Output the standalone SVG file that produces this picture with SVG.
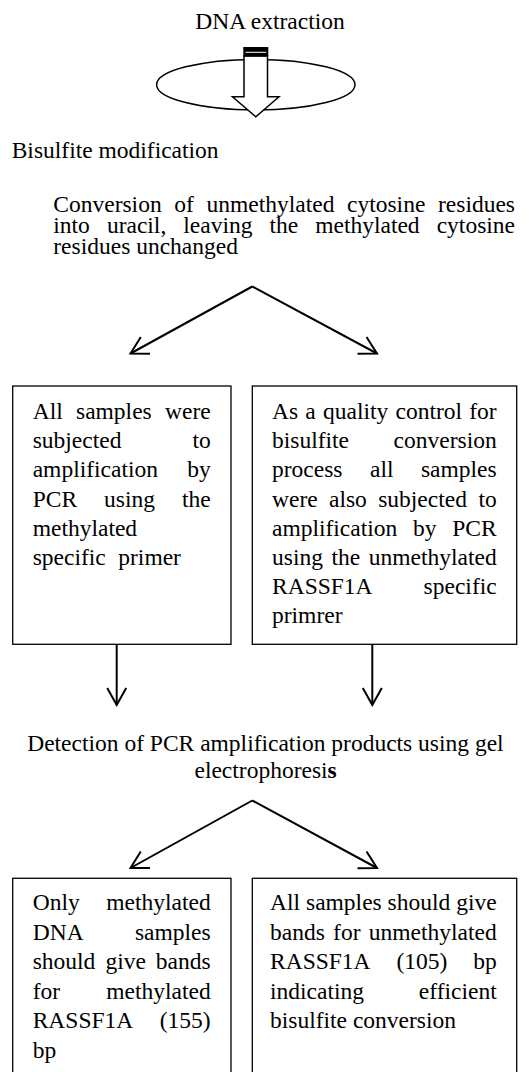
<svg xmlns="http://www.w3.org/2000/svg" width="529" height="1072" viewBox="0 0 529 1072">
<style>
.t{font-family:"Liberation Serif","Times New Roman",serif;font-size:23.5px;fill:#000}
.e{text-anchor:end}
.m{text-anchor:middle}
.box{fill:#fff;stroke:#000;stroke-width:1.3}
.conn{fill:none;stroke:#000;stroke-width:2;marker-end:url(#arr)}
</style>
<defs>
<marker id="arr" markerUnits="userSpaceOnUse" markerWidth="30" markerHeight="30" refX="0" refY="0" viewBox="-20 -15 25 30" orient="auto" overflow="visible">
<path d="M-17,-9.5 L0,0 L-17,9.5" fill="none" stroke="#000" stroke-width="2"/>
</marker>
</defs>
<rect width="529" height="1072" fill="#fff"/>

<g id="connectors">
<path class="conn" d="M252.3,286.5 L130.5,353.5"/>
<path class="conn" d="M252.3,286.5 L377,353.5"/>
<path class="conn" d="M116.7,644.3 L116.7,705"/>
<path class="conn" d="M372.3,644.3 L372.3,705"/>
<path class="conn" d="M252.3,800.5 L130.5,868"/>
<path class="conn" d="M252.3,800.5 L377,868"/>
</g>

<g id="dna-extraction">
<text class="t m" x="270" y="29">DNA extraction</text>
</g>

<g id="extraction-step">
<ellipse cx="255.8" cy="84.7" rx="99.2" ry="25.3" fill="none" stroke="#000" stroke-width="1.5"/>
<path d="M244,56 L244,96.7 L232.5,96.7 L255.8,116.7 L279,96.7 L267.5,96.7 L267.5,56 Z" fill="#fff" stroke="#000" stroke-width="1.5"/>
<rect x="243.3" y="47" width="25" height="9.5" fill="#000"/>
<line x1="245.5" y1="52.3" x2="266.2" y2="52.3" stroke="#fff" stroke-width="1"/>
</g>

<g id="bisulfite">
<text class="t" x="11.7" y="158">Bisulfite modification</text>
</g>

<g id="conversion">
<text class="t" y="212"><tspan x="53.3">Conversion</tspan><tspan x="174.3">of</tspan><tspan x="206.5">unmethylated</tspan><tspan x="347">cytosine</tspan></text>
<text class="t e" x="515" y="212">residues</text>
<text class="t" y="233"><tspan x="53.3">into</tspan><tspan x="106.9">uracil,</tspan><tspan x="183.3">leaving</tspan><tspan x="269.5">the</tspan><tspan x="315.2">methylated</tspan></text>
<text class="t e" x="515" y="233">cytosine</text>
<text class="t" x="53.3" y="254">residues unchanged</text>
</g>

<g id="box-methylated">
<rect class="box" x="12.7" y="386" width="218.3" height="258.3"/>
<text class="t" y="419"><tspan x="32.7">All</tspan><tspan x="76">samples</tspan></text>
<text class="t e" x="210.7" y="419">were</text>
<text class="t" x="32.7" y="448.2">subjected</text>
<text class="t e" x="210.7" y="448.2">to</text>
<text class="t" x="32.7" y="477.4">amplification</text>
<text class="t e" x="210.7" y="477.4">by</text>
<text class="t" y="506.6"><tspan x="32.7">PCR</tspan><tspan x="104.1">using</tspan></text>
<text class="t e" x="210.7" y="506.6">the</text>
<text class="t" x="32.7" y="535.8">methylated</text>
<text class="t" y="565"><tspan x="32.7">specific</tspan><tspan x="118.3">primer</tspan></text>
</g>

<g id="box-unmethylated">
<rect class="box" x="252.3" y="386" width="264.4" height="258.3"/>
<text class="t" y="419"><tspan x="272">As</tspan><tspan x="305.3">a</tspan><tspan x="323">quality</tspan><tspan x="395.5">control</tspan></text>
<text class="t e" x="496.7" y="419">for</text>
<text class="t" x="272" y="448.2">bisulfite</text>
<text class="t e" x="496.7" y="448.2">conversion</text>
<text class="t" y="477.4"><tspan x="272">process</tspan><tspan x="370">all</tspan></text>
<text class="t e" x="496.7" y="477.4">samples</text>
<text class="t" y="506.6"><tspan x="272">were</tspan><tspan x="329">also</tspan><tspan x="378.2">subjected</tspan></text>
<text class="t e" x="496.7" y="506.6">to</text>
<text class="t" y="535.8"><tspan x="272">amplification</tspan><tspan x="413">by</tspan></text>
<text class="t e" x="496.7" y="535.8">PCR</text>
<text class="t" y="565"><tspan x="272">using</tspan><tspan x="331.5">the</tspan></text>
<text class="t e" x="496.7" y="565">unmethylated</text>
<text class="t" x="272" y="594.2">RASSF1A</text>
<text class="t e" x="496.7" y="594.2">specific</text>
<text class="t" x="272" y="623.4">primrer</text>
</g>

<g id="detection">
<text class="t m" x="265.4" y="750.5">Detection of PCR amplification products using gel</text>
<text class="t m" x="265.6" y="777.5">electrophoresi<tspan font-weight="bold">s</tspan></text>
</g>

<g id="box-result-methylated">
<rect class="box" x="12.7" y="878.3" width="218.3" height="220"/>
<text class="t" x="32.7" y="910">Only</text>
<text class="t e" x="210.7" y="910">methylated</text>
<text class="t" x="32.7" y="939.6">DNA</text>
<text class="t e" x="210.7" y="939.6">samples</text>
<text class="t" y="969.2"><tspan x="32.7">should</tspan><tspan x="105.4">give</tspan></text>
<text class="t e" x="210.7" y="969.2">bands</text>
<text class="t" x="32.7" y="998.8">for</text>
<text class="t e" x="210.7" y="998.8">methylated</text>
<text class="t" x="32.7" y="1028.4">RASSF1A</text>
<text class="t e" x="210.7" y="1028.4">(155)</text>
<text class="t" x="32.7" y="1058">bp</text>
</g>

<g id="box-result-unmethylated">
<rect class="box" x="252.3" y="878.3" width="264.4" height="220"/>
<text class="t" y="910"><tspan x="270">All</tspan><tspan x="306">samples</tspan><tspan x="387.6">should</tspan></text>
<text class="t e" x="496.7" y="910">give</text>
<text class="t" y="939.6"><tspan x="270">bands</tspan><tspan x="333.1">for</tspan></text>
<text class="t e" x="496.7" y="939.6">unmethylated</text>
<text class="t" y="969.2"><tspan x="270">RASSF1A</tspan><tspan x="396.4">(105)</tspan></text>
<text class="t e" x="496.7" y="969.2">bp</text>
<text class="t" x="270" y="998.8">indicating</text>
<text class="t e" x="496.7" y="998.8">efficient</text>
<text class="t" x="270" y="1028.4">bisulfite conversion</text>
</g>
</svg>
